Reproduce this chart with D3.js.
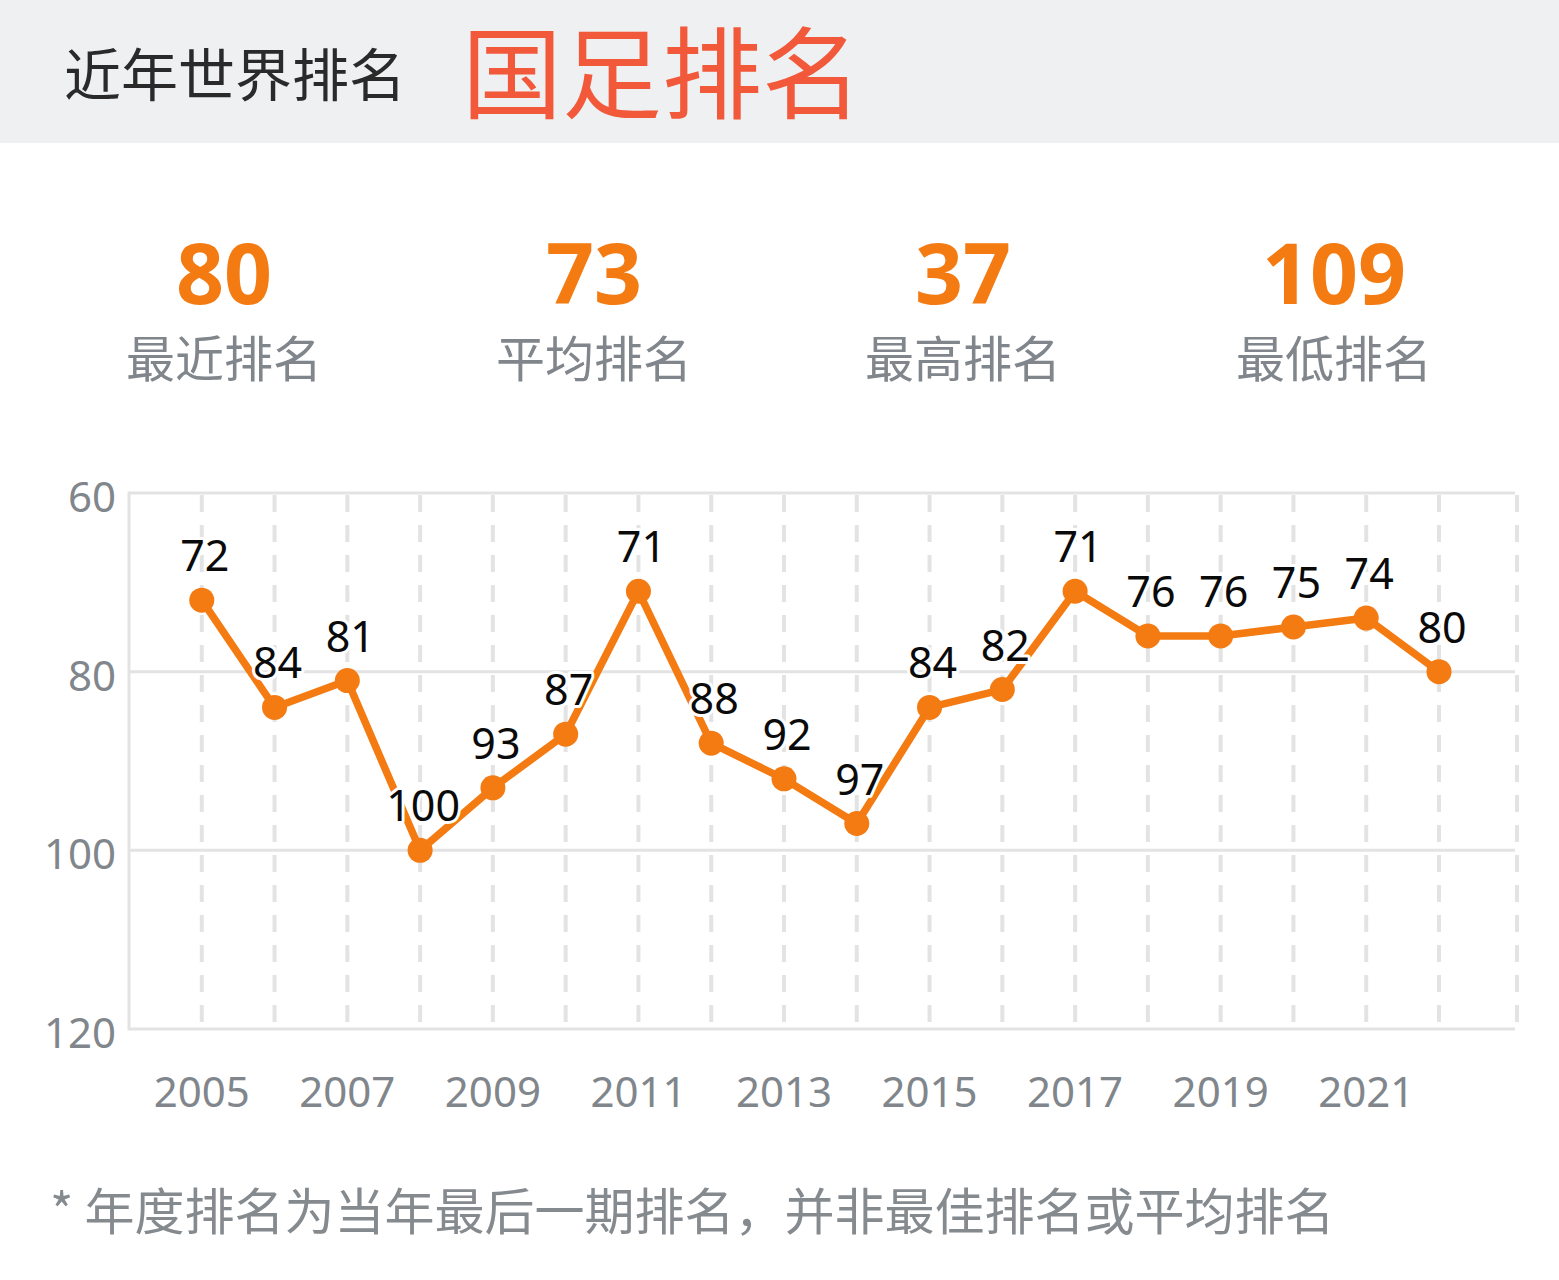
<!DOCTYPE html>
<html>
<head>
<meta charset="utf-8">
<script src="https://cdn.jsdelivr.net/npm/d3@7"></script>
<style>
  html, body { margin: 0; padding: 0; background: #fff; }
  svg { display: block; }
  text { font-family: "Noto Sans", "Noto Sans CJK SC", sans-serif; }
</style>
</head>
<body>
<svg width="1559" height="1280"></svg>
<script>
// data
var years = [2005, 2006, 2007, 2008, 2009, 2010, 2011, 2012, 2013, 2014, 2015, 2016, 2017, 2018, 2019, 2020, 2021, 2022];
var ranks = [72, 84, 81, 100, 93, 87, 71, 88, 92, 97, 84, 82, 71, 76, 76, 75, 74, 80];
var yTicks = [60, 80, 100, 120];
var xTickYears = [2005, 2007, 2009, 2011, 2013, 2015, 2017, 2019, 2021];
var statValues = ["80", "73", "37", "109"];
var statLabels = ["最近排名", "平均排名", "最高排名", "最低排名"];

(function() {
	var orange = "#f47a12",
		grid = "#e3e3e3",
		gray = "#80868b";

	var svg = d3.select("svg");

	// header band
	svg.append("rect")
		.attr("x", 0).attr("y", 0)
		.attr("width", 1559).attr("height", 143)
		.style("fill", "#eff0f2");

	svg.append("text")
		.attr("x", 64).attr("y", 96)
		.style("font-family", "'Noto Sans CJK SC', sans-serif")
		.style("font-size", "57px")
		.style("fill", "#2a2a2a")
		.text("近年世界排名");

	svg.append("text")
		.attr("x", 462).attr("y", 111)
		.style("font-family", "'Noto Sans CJK SC', sans-serif")
		.style("font-size", "100px")
		.style("fill", "#f2593b")
		.text("国足排名");

	// summary numbers
	var statX = [224, 594, 963, 1334];
	var stats = svg.append("g").selectAll("g")
		.data(statValues)
		.enter().append("g")
		.attr("transform", function(d, i) { return "translate(" + statX[i] + ",0)"; });

	stats.append("text")
		.attr("y", 304)
		.attr("text-anchor", "middle")
		.style("font-size", "84px")
		.style("font-weight", "bold")
		.style("fill", orange)
		.text(function(d) { return d; });

	stats.append("text")
		.attr("y", 377)
		.attr("text-anchor", "middle")
		.style("font-family", "'Noto Sans CJK SC', sans-serif")
		.style("font-size", "49px")
		.style("fill", gray)
		.text(function(d, i) { return statLabels[i]; });

	// chart
	var pLeft = 129, pRight = 1517, pTop = 493, pBottom = 1029;

	var x = d3.scaleLinear().domain([2004, 2022]).range([pLeft, 1439]);
	var y = d3.scaleLinear().domain([60, 120]).range([pTop, pBottom]);

	var chart = svg.append("g");

	// vertical dashed lines
	chart.append("g").selectAll("line")
		.data(years.map(x).concat([pRight]))
		.enter().append("line")
		.attr("x1", function(d) { return d; })
		.attr("x2", function(d) { return d; })
		.attr("y1", pTop + 2)
		.attr("y2", pBottom)
		.style("stroke", grid)
		.style("stroke-width", 4)
		.style("stroke-dasharray", "17,13");

	// horizontal gridlines
	chart.append("g").selectAll("line")
		.data(yTicks)
		.enter().append("line")
		.attr("x1", pLeft)
		.attr("x2", pRight - 2)
		.attr("y1", function(d) { return y(d); })
		.attr("y2", function(d) { return y(d); })
		.style("stroke", grid)
		.style("stroke-width", 3);

	chart.append("line")
		.attr("x1", pLeft).attr("x2", pLeft)
		.attr("y1", pTop - 1.5).attr("y2", pBottom + 1.5)
		.style("stroke", grid)
		.style("stroke-width", 3);

	// y labels
	chart.append("g").selectAll("text")
		.data(yTicks)
		.enter().append("text")
		.attr("x", 116)
		.attr("y", function(d) { return y(d) + 19; })
		.attr("text-anchor", "end")
		.style("font-size", "42px")
		.style("fill", gray)
		.text(function(d) { return d; });

	// x labels
	chart.append("g").selectAll("text")
		.data(xTickYears)
		.enter().append("text")
		.attr("x", function(d) { return x(d); })
		.attr("y", 1107)
		.attr("text-anchor", "middle")
		.style("font-size", "42px")
		.style("fill", gray)
		.text(function(d) { return d; });

	// line + markers
	var pts = years.map(function(yr, i) { return {year: yr, rank: ranks[i]}; });

	chart.append("path")
		.datum(pts)
		.attr("d", d3.line()
			.x(function(d) { return x(d.year); })
			.y(function(d) { return y(d.rank); }))
		.style("fill", "none")
		.style("stroke", orange)
		.style("stroke-width", 7.5)
		.style("stroke-linejoin", "round");

	chart.append("g").selectAll("circle")
		.data(pts)
		.enter().append("circle")
		.attr("cx", function(d) { return x(d.year); })
		.attr("cy", function(d) { return y(d.rank); })
		.attr("r", 12.5)
		.style("fill", orange);

	// value labels with white halo
	chart.append("g").selectAll("text")
		.data(pts)
		.enter().append("text")
		.attr("x", function(d) { return x(d.year) + 3; })
		.attr("y", function(d) { return y(d.rank) - 29; })
		.attr("text-anchor", "middle")
		.style("font-size", "43px")
		.style("fill", "#0a0a0a")
		.style("stroke", "#fff")
		.style("stroke-width", 6)
		.style("paint-order", "stroke")
		.style("stroke-linejoin", "round")
		.text(function(d) { return d.rank; });

	// footnote
	svg.append("text")
		.attr("x", 50).attr("y", 1230)
		.style("font-family", "'Noto Sans CJK SC', sans-serif")
		.style("font-size", "50px")
		.style("fill", "#858a8f")
		.text("* 年度排名为当年最后一期排名，并非最佳排名或平均排名");
})();
</script>
</body>
</html>
